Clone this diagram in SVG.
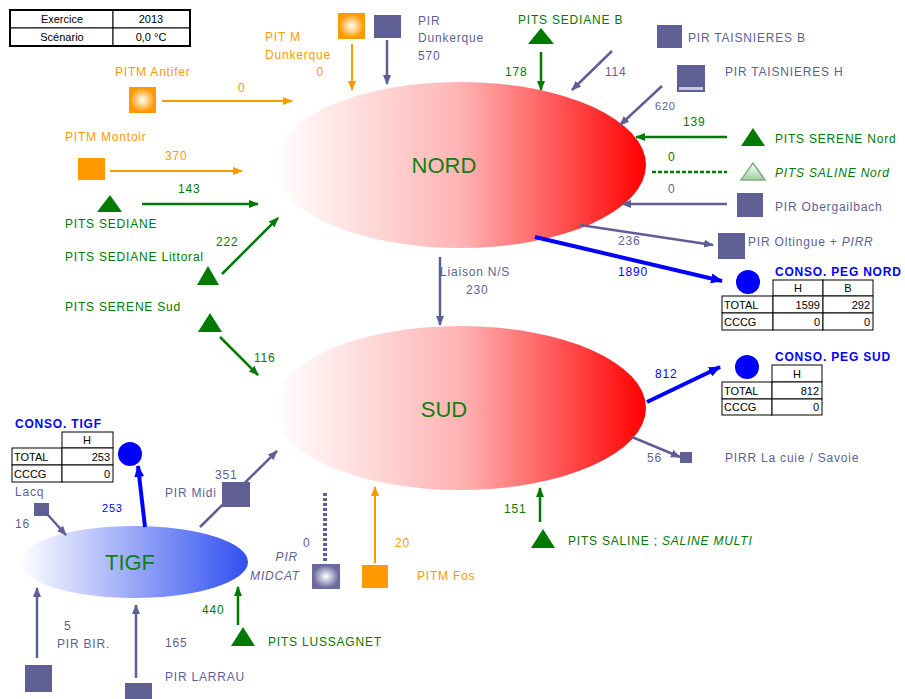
<svg xmlns="http://www.w3.org/2000/svg" width="905" height="699" viewBox="0 0 905 699">
<defs>
<linearGradient id="gRed" x1="0" y1="0" x2="1" y2="0"><stop offset="0" stop-color="#ffffff"/><stop offset="0.5" stop-color="#ffb4b4"/><stop offset="1" stop-color="#ff0000"/></linearGradient>
<linearGradient id="gBlue" x1="0" y1="0" x2="1" y2="0"><stop offset="0" stop-color="#ffffff"/><stop offset="1" stop-color="#3050f0"/></linearGradient>
<radialGradient id="gOr"><stop offset="0" stop-color="#ffffff"/><stop offset="1" stop-color="#ff9900"/></radialGradient>
<radialGradient id="gPu"><stop offset="0" stop-color="#ffffff"/><stop offset="1" stop-color="#6a6a9c"/></radialGradient>
<linearGradient id="gTri" x1="0" y1="0" x2="0" y2="1"><stop offset="0" stop-color="#ffffff"/><stop offset="1" stop-color="#9fcf9f"/></linearGradient>
<marker id="mO" markerWidth="10" markerHeight="10" refX="9" refY="5" orient="auto" markerUnits="userSpaceOnUse"><path d="M0,1 L10,5 L0,9 Z" fill="#ff9900"/></marker>
<marker id="mP" markerWidth="10" markerHeight="10" refX="9" refY="5" orient="auto" markerUnits="userSpaceOnUse"><path d="M0,1 L10,5 L0,9 Z" fill="#5f5f96"/></marker>
<marker id="mG" markerWidth="10" markerHeight="10" refX="9" refY="5" orient="auto" markerUnits="userSpaceOnUse"><path d="M0,1 L10,5 L0,9 Z" fill="#007a00"/></marker>
<marker id="mB" markerWidth="12" markerHeight="12" refX="11" refY="6" orient="auto" markerUnits="userSpaceOnUse"><path d="M0,1 L12,6 L0,11 Z" fill="#0000ff"/></marker>
</defs>
<style>
text{font-family:"Liberation Sans",Arial,sans-serif;font-size:12px;letter-spacing:0.8px}
.o{fill:#ff9900}.p{fill:#5f5f96}.g{fill:#007a00}.b{fill:#0000ff}
.bb{fill:#0000ff;font-weight:bold}
.it{font-style:italic}
.big{font-size:22px;letter-spacing:0;fill:#108010}
.tb{font-size:11px;letter-spacing:0;fill:#000}
.cell{fill:#fff;stroke:#000;stroke-width:1}
.lo{stroke:#ff9900;stroke-width:2;fill:none}
.lp{stroke:#5f5f96;stroke-width:2.5;fill:none}
.lg{stroke:#007a00;stroke-width:2.5;fill:none}
.lb{stroke:#0000ff;stroke-width:4;fill:none}
.sq{fill:#5f5f96}
.tri{fill:#007a00}
</style>
<rect width="905" height="699" fill="#fff"/>

<g id="hub-nord"><ellipse cx="460" cy="165" rx="186" ry="83" fill="url(#gRed)"/><text x="444" y="173" class="big" text-anchor="middle">NORD</text></g>
<g id="hub-sud"><ellipse cx="460" cy="408" rx="186" ry="82" fill="url(#gRed)"/><text x="444" y="417" class="big" text-anchor="middle">SUD</text></g>
<g id="hub-tigf"><ellipse cx="134" cy="562" rx="114" ry="36" fill="url(#gBlue)"/><text x="130" y="570" class="big" text-anchor="middle">TIGF</text></g>

<g id="info-table">
<rect x="10" y="10" width="103" height="18" class="cell"/><rect x="113" y="10" width="77" height="18" class="cell"/>
<rect x="10" y="28" width="103" height="18" class="cell"/><rect x="113" y="28" width="77" height="18" class="cell"/>
<rect x="10" y="10" width="180" height="36" fill="none" stroke="#000" stroke-width="2"/>
<text x="62" y="23" class="tb" text-anchor="middle">Exercice</text><text x="151" y="23" class="tb" text-anchor="middle">2013</text>
<text x="62" y="41" class="tb" text-anchor="middle">Scénario</text><text x="151" y="41" class="tb" text-anchor="middle">0,0 °C</text>
</g>

<g id="connectors">
<line x1="162" y1="101" x2="292" y2="101" class="lo" marker-end="url(#mO)"/>
<line x1="352" y1="44" x2="352" y2="90" class="lo" marker-end="url(#mO)"/>
<line x1="387" y1="40" x2="387" y2="84" class="lp" marker-end="url(#mP)"/>
<line x1="541" y1="52" x2="541" y2="90" class="lg" marker-end="url(#mG)"/>
<line x1="612" y1="51" x2="572" y2="90" class="lp" marker-end="url(#mP)"/>
<line x1="662" y1="86" x2="620" y2="125" class="lp" marker-end="url(#mP)"/>
<line x1="727" y1="137" x2="636" y2="137" class="lg" marker-end="url(#mG)"/>
<line x1="652" y1="172" x2="727" y2="172" class="lg" stroke-dasharray="4,2"/>
<line x1="727" y1="204" x2="622" y2="204" class="lp" marker-end="url(#mP)"/>
<line x1="580" y1="225" x2="713" y2="245" class="lp" marker-end="url(#mP)"/>
<line x1="535" y1="237" x2="722" y2="281" class="lb" marker-end="url(#mB)"/>
<line x1="110" y1="171" x2="242" y2="171" class="lo" marker-end="url(#mO)"/>
<line x1="142" y1="204" x2="258" y2="204" class="lg" marker-end="url(#mG)"/>
<line x1="222" y1="274" x2="278" y2="218" class="lg" marker-end="url(#mG)"/>
<line x1="220" y1="337" x2="258" y2="375" class="lg" marker-end="url(#mG)"/>
<line x1="440" y1="257" x2="440" y2="325" class="lp" stroke-width="2" marker-end="url(#mP)"/>
<line x1="647" y1="402" x2="720" y2="367" class="lb" marker-end="url(#mB)"/>
<line x1="632" y1="437" x2="680" y2="457" class="lp" marker-end="url(#mP)"/>
<line x1="540" y1="522" x2="540" y2="488" class="lg" marker-end="url(#mG)"/>
<line x1="375" y1="563" x2="375" y2="487" class="lo" marker-end="url(#mO)"/>
<line x1="325" y1="493" x2="325" y2="563" stroke="#5f5f96" stroke-width="4" stroke-dasharray="3,2"/>
<line x1="238" y1="625" x2="238" y2="587" class="lg" marker-end="url(#mG)"/>
<line x1="136" y1="678" x2="136" y2="605" class="lp" marker-end="url(#mP)"/>
<line x1="37" y1="658" x2="37" y2="588" class="lp" marker-end="url(#mP)"/>
<line x1="48" y1="515" x2="66" y2="535" class="lp" stroke-width="3" marker-end="url(#mP)"/>
<line x1="200" y1="527" x2="277" y2="451" class="lp" marker-end="url(#mP)"/>
<line x1="145" y1="527" x2="138" y2="466" class="lb" marker-end="url(#mB)"/>
</g>

<g id="pitm-antifer"><rect x="130" y="88" width="25" height="24" fill="url(#gOr)" stroke="#ff9900" stroke-width="2"/><text x="115" y="76" class="o">PITM Antifer</text><text x="238" y="92" class="o">0</text></g>
<g id="pitm-dunkerque"><rect x="339" y="14" width="25" height="24" fill="url(#gOr)" stroke="#ff9900" stroke-width="2"/><text x="265" y="41" class="o">PIT M</text><text x="265" y="59" class="o">Dunkerque</text><text x="324" y="76" class="o" text-anchor="end">0</text></g>
<g id="pir-dunkerque"><rect x="374" y="15" width="27" height="23" class="sq"/><text x="418" y="25" class="p">PIR</text><text x="418" y="42" class="p">Dunkerque</text><text x="418" y="60" class="p">570</text></g>
<g id="pits-sediane-b"><path d="M541,28 L554,44 L528,44 Z" class="tri"/><text x="518" y="24" class="g">PITS SEDIANE B</text><text x="505" y="76" class="g">178</text></g>
<g id="pir-taisnieres-b"><rect x="657" y="25" width="25" height="23" class="sq"/><text x="688" y="42" class="p">PIR TAISNIERES B</text><text x="605" y="76" class="p">114</text></g>
<g id="pir-taisnieres-h"><rect x="677" y="65" width="28" height="27" class="sq"/><rect x="679" y="87" width="24" height="3" fill="#c8c8e0"/><text x="725" y="76" class="p">PIR TAISNIERES H</text><text x="655" y="110" class="p" style="font-size:11px">620</text></g>
<g id="pits-serene-nord"><path d="M753,128 L765,146 L741,146 Z" class="tri"/><text x="775" y="143" class="g">PITS SERENE Nord</text><text x="683" y="126" class="g">139</text></g>
<g id="pits-saline-nord"><path d="M753,163 L765,180 L741,180 Z" fill="url(#gTri)" stroke="#7faf7f" stroke-width="1.5"/><text x="775" y="177" class="g it">PITS SALINE Nord</text><text x="668" y="161" class="g">0</text></g>
<g id="pir-obergailbach"><rect x="737" y="193" width="26" height="24" class="sq"/><text x="775" y="211" class="p">PIR Obergailbach</text><text x="668" y="193" class="p">0</text></g>
<g id="pir-oltingue"><rect x="718" y="233" width="27" height="26" class="sq"/><text x="748" y="246" class="p">PIR Oltingue + <tspan class="it">PIRR</tspan></text><text x="618" y="245" class="p">236</text></g>
<g id="conso-peg-nord"><circle cx="748" cy="282" r="12" fill="#0000ff"/><text x="775" y="276" class="bb">CONSO. PEG NORD</text><text x="618" y="276" class="b">1890</text>
<rect x="773" y="280" width="50" height="16" class="cell"/><rect x="823" y="280" width="50" height="16" class="cell"/>
<rect x="722" y="296" width="51" height="17" class="cell"/><rect x="773" y="296" width="50" height="17" class="cell"/><rect x="823" y="296" width="50" height="17" class="cell"/>
<rect x="722" y="313" width="51" height="17" class="cell"/><rect x="773" y="313" width="50" height="17" class="cell"/><rect x="823" y="313" width="50" height="17" class="cell"/>
<text x="798" y="292" class="tb" text-anchor="middle">H</text><text x="848" y="292" class="tb" text-anchor="middle">B</text>
<text x="724" y="309" class="tb">TOTAL</text><text x="820" y="309" class="tb" text-anchor="end">1599</text><text x="870" y="309" class="tb" text-anchor="end">292</text>
<text x="724" y="326" class="tb">CCCG</text><text x="820" y="326" class="tb" text-anchor="end">0</text><text x="870" y="326" class="tb" text-anchor="end">0</text>
</g>
<g id="pitm-montoir"><rect x="78" y="158" width="27" height="22" fill="#ff9900"/><text x="65" y="141" class="o">PITM Montoir</text><text x="165" y="160" class="o">370</text></g>
<g id="pits-sediane"><path d="M110,195 L122,212 L97,212 Z" class="tri"/><text x="65" y="228" class="g">PITS SEDIANE</text><text x="178" y="193" class="g">143</text></g>
<g id="pits-sediane-littoral"><path d="M208,266 L219,285 L197,285 Z" class="tri"/><text x="65" y="261" class="g">PITS SEDIANE Littoral</text><text x="216" y="246" class="g">222</text></g>
<g id="pits-serene-sud"><path d="M210,313 L222,332 L198,332 Z" class="tri"/><text x="65" y="311" class="g">PITS SERENE Sud</text><text x="254" y="362" class="g">116</text></g>
<g id="liaison-ns"><text x="440" y="276" class="p">Liaison N/S</text><text x="466" y="294" class="p">230</text></g>
<g id="conso-peg-sud"><circle cx="747" cy="367" r="12" fill="#0000ff"/><text x="775" y="361" class="bb">CONSO. PEG SUD</text><text x="655" y="378" class="b">812</text>
<rect x="772" y="365" width="50" height="17" class="cell"/>
<rect x="722" y="382" width="50" height="17" class="cell"/><rect x="772" y="382" width="50" height="17" class="cell"/>
<rect x="722" y="399" width="50" height="16" class="cell"/><rect x="772" y="399" width="50" height="16" class="cell"/>
<text x="797" y="378" class="tb" text-anchor="middle">H</text>
<text x="724" y="395" class="tb">TOTAL</text><text x="819" y="395" class="tb" text-anchor="end">812</text>
<text x="724" y="411" class="tb">CCCG</text><text x="819" y="411" class="tb" text-anchor="end">0</text>
</g>
<g id="pirr-la-cuie"><rect x="680" y="452" width="12" height="11" class="sq"/><text x="725" y="462" class="p">PIRR La cuie / Savoie</text><text x="647" y="462" class="p">56</text></g>
<g id="pits-saline"><path d="M543,529 L555,548 L531,548 Z" class="tri"/><text x="568" y="545" class="g">PITS SALINE ; <tspan class="it">SALINE MULTI</tspan></text><text x="504" y="513" class="g">151</text></g>
<g id="pitm-fos"><rect x="362" y="565" width="26" height="23" fill="#ff9900"/><text x="417" y="580" class="o">PITM Fos</text><text x="395" y="547" class="o">20</text></g>
<g id="pir-midcat"><rect x="313" y="565" width="26" height="23" fill="url(#gPu)" stroke="#6a6a9c" stroke-width="2"/><text x="298" y="561" class="p it" text-anchor="end">PIR</text><text x="300" y="580" class="p it" text-anchor="end">MIDCAT</text><text x="303" y="547" class="p">0</text></g>
<g id="pits-lussagnet"><path d="M243,627 L255,646 L231,646 Z" class="tri"/><text x="268" y="646" class="g">PITS LUSSAGNET</text><text x="202" y="614" class="g">440</text></g>
<g id="pir-larrau"><rect x="125" y="683" width="27" height="16" class="sq"/><text x="165" y="681" class="p">PIR LARRAU</text><text x="165" y="647" class="p">165</text></g>
<g id="pir-bir"><rect x="25" y="665" width="27" height="27" class="sq"/><text x="64" y="630" class="p">5</text><text x="57" y="648" class="p">PIR BIR.</text></g>
<g id="lacq"><rect x="34" y="503" width="15" height="13" class="sq"/><text x="15" y="496" class="p">Lacq</text><text x="15" y="528" class="p">16</text></g>
<g id="pir-midi"><rect x="222" y="482" width="28" height="25" class="sq"/><text x="165" y="497" class="p">PIR Midi</text><text x="215" y="479" class="p">351</text></g>
<g id="conso-tigf"><circle cx="130" cy="454" r="12" fill="#0000ff"/><text x="15" y="428" class="bb">CONSO. TIGF</text><text x="102" y="512" class="b" style="font-size:11px">253</text>
<rect x="62" y="432" width="51" height="16" class="cell"/>
<rect x="12" y="448" width="50" height="17" class="cell"/><rect x="62" y="448" width="51" height="17" class="cell"/>
<rect x="12" y="465" width="50" height="17" class="cell"/><rect x="62" y="465" width="51" height="17" class="cell"/>
<text x="87" y="444" class="tb" text-anchor="middle">H</text>
<text x="14" y="461" class="tb">TOTAL</text><text x="110" y="461" class="tb" text-anchor="end">253</text>
<text x="14" y="478" class="tb">CCCG</text><text x="110" y="478" class="tb" text-anchor="end">0</text>
</g>
</svg>
